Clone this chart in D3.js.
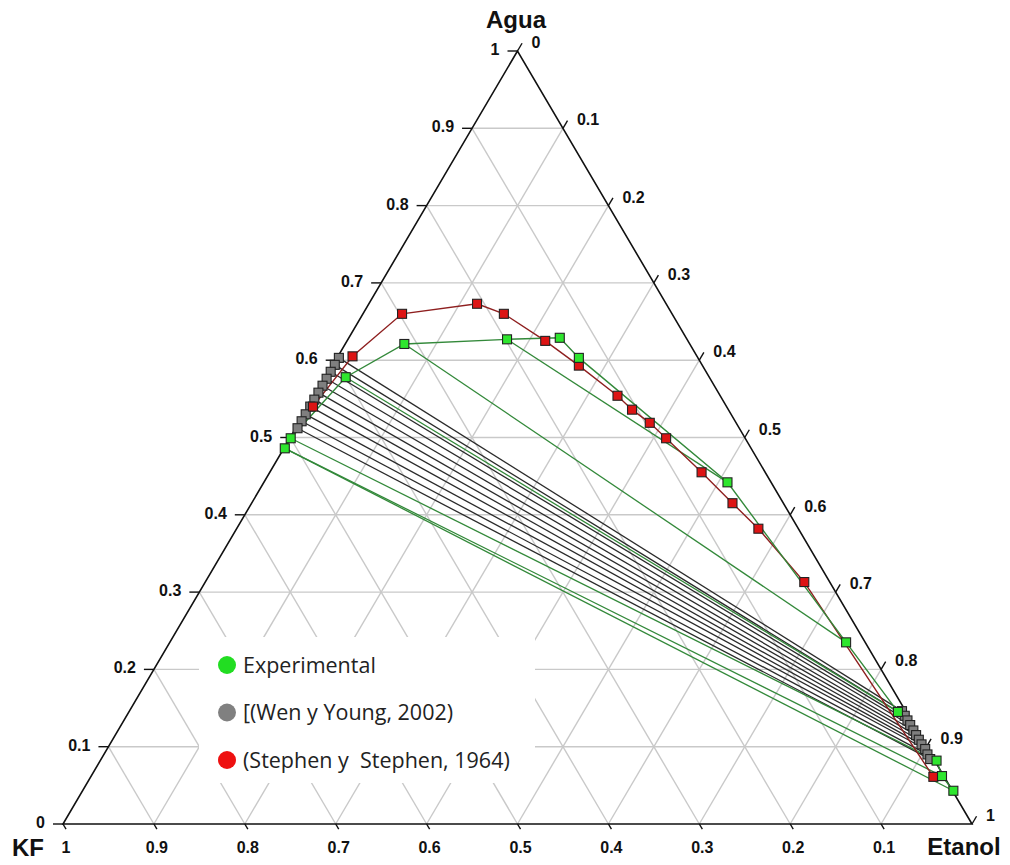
<!DOCTYPE html>
<html>
<head>
<meta charset="utf-8">
<script src="https://cdn.jsdelivr.net/npm/d3@7"></script>
<style>
  html, body { margin: 0; padding: 0; background: #fff; overflow: hidden; }
  svg { display: block; }
</style>
</head>
<body>
<svg id="chart" width="1010" height="865"></svg>
<script>
// Phase diagram Agua – KF – Etanol (mass fractions, KF = 1 - Agua - Etanol)

const tickValues = [0, 0.1, 0.2, 0.3, 0.4, 0.5, 0.6, 0.7, 0.8, 0.9, 1];
const tickLabels = ["0", "0.1", "0.2", "0.3", "0.4", "0.5", "0.6", "0.7", "0.8", "0.9", "1"];
const axisTitles = ["Agua", "KF", "Etanol"];
const legendLabels = ["Experimental", "[(Wen y Young, 2002)", "(Stephen y  Stephen, 1964)"];

// Experimental binodal curve, KF-rich branch -> plait region -> ethanol-rich branch
const expAgua    = [0.486, 0.499, 0.578, 0.621, 0.627, 0.629, 0.603, 0.442, 0.235, 0.145, 0.082, 0.062, 0.043];
const expEtanol  = [0.001, 0.001, 0.022, 0.065, 0.175, 0.232, 0.266, 0.510, 0.744, 0.846, 0.920, 0.936, 0.958];
// Experimental tie lines (indices into the curve above)
const expTieFrom = [0, 0, 1, 2, 3, 4];
const expTieTo   = [12, 11, 10, 9, 8, 7];

// Wen y Young (2002): tie-line ends, KF-rich phase and ethanol-rich phase
const wenLeftAgua    = [0.603, 0.594, 0.585, 0.576, 0.567, 0.558, 0.549, 0.540, 0.530, 0.521, 0.512];
const wenLeftEtanol  = [0.002, 0.002, 0.002, 0.002, 0.002, 0.002, 0.002, 0.002, 0.002, 0.002, 0.002];
const wenRightAgua   = [0.146, 0.140, 0.134, 0.128, 0.121, 0.115, 0.109, 0.103, 0.097, 0.090, 0.084];
const wenRightEtanol = [0.850, 0.856, 0.862, 0.868, 0.875, 0.881, 0.887, 0.893, 0.900, 0.906, 0.912];

// Stephen y Stephen (1964): binodal curve
const stephenAgua   = [0.540, 0.605, 0.660, 0.673, 0.660, 0.625, 0.593, 0.554, 0.536, 0.519, 0.499, 0.455, 0.415, 0.382, 0.313, 0.061];
const stephenEtanol = [0.005, 0.016, 0.043, 0.119, 0.155, 0.218, 0.271, 0.333, 0.358, 0.386, 0.414, 0.475, 0.529, 0.574, 0.659, 0.927];

const svg = d3.select("#chart");

// Cartesian scales for the triangle: X = Etanol + Agua/2, Y = Agua
const x = d3.scaleLinear().domain([0, 1]).range([63, 972]);
const y = d3.scaleLinear().domain([0, 1]).range([824, 51]);
const pt = (agua, etanol) => [x(etanol + agua / 2), y(agua)];

const line = d3.line();

// Grid
const grid = svg.append("g").attr("stroke", "#c9c9c9").attr("stroke-width", 1.4).attr("fill", "none");
tickValues.slice(1, -1).forEach(v => {
  // constant Agua
  grid.append("path").attr("d", line([pt(v, 0), pt(v, 1 - v)]));
  // constant Etanol
  grid.append("path").attr("d", line([pt(0, v), pt(1 - v, v)]));
  // constant KF
  grid.append("path").attr("d", line([pt(1 - v, 0), pt(0, 1 - v)]));
});

// Triangle outline
svg.append("path")
  .attr("d", line([pt(1, 0), pt(0, 0), pt(0, 1)]) + "Z")
  .attr("fill", "none").attr("stroke", "#111").attr("stroke-width", 1.6);

// Ticks and tick labels
const ticks = svg.append("g").attr("stroke", "#111").attr("stroke-width", 1.4);
const labels = svg.append("g")
  .attr("font-family", "'Liberation Sans', Arial, sans-serif")
  .attr("font-weight", "bold").attr("font-size", 16).attr("fill", "#111");

const ux = 454.5 / Math.hypot(454.5, 773), uy = 773 / Math.hypot(454.5, 773);

tickValues.forEach((v, i) => {
  // left side: Agua
  const [lx, ly] = pt(v, 0);
  ticks.append("line").attr("x1", lx - 10).attr("y1", ly).attr("x2", lx).attr("y2", ly);
  labels.append("text").attr("x", lx - 18).attr("y", ly + 4).attr("text-anchor", "end").text(tickLabels[i]);

  // right side: Etanol
  const [rx, ry] = pt(1 - v, v);
  ticks.append("line").attr("x1", rx).attr("y1", ry).attr("x2", rx + ux * 9).attr("y2", ry - uy * 9);
  labels.append("text").attr("x", rx + 14).attr("y", ry - 3).attr("text-anchor", "start").text(tickLabels[i]);

  // bottom: KF
  if (v > 0) {
    const [bx, by] = pt(0, 1 - v);
    ticks.append("line").attr("x1", bx).attr("y1", by).attr("x2", bx + ux * 6).attr("y2", by + uy * 6);
    labels.append("text").attr("x", bx + 3).attr("y", by + 29).attr("text-anchor", "middle").text(tickLabels[i]);
  }
});

// Axis titles
const titles = svg.append("g")
  .attr("font-family", "'Liberation Sans', Arial, sans-serif")
  .attr("font-weight", "bold").attr("font-size", 24).attr("fill", "#111");
titles.append("text").attr("x", 516).attr("y", 28).attr("text-anchor", "middle").text(axisTitles[0]);
titles.append("text").attr("x", 28).attr("y", 856).attr("text-anchor", "middle").text(axisTitles[1]);
titles.append("text").attr("x", 964).attr("y", 855).attr("text-anchor", "middle").text(axisTitles[2]);

// Tie lines
const ties = svg.append("g").attr("fill", "none").attr("stroke-width", 1.3);
wenLeftAgua.forEach((a, i) => {
  ties.append("path")
    .attr("d", line([pt(a, wenLeftEtanol[i]), pt(wenRightAgua[i], wenRightEtanol[i])]))
    .attr("stroke", "#2a2a2a");
});
expTieFrom.forEach((f, i) => {
  const t = expTieTo[i];
  ties.append("path")
    .attr("d", line([pt(expAgua[f], expEtanol[f]), pt(expAgua[t], expEtanol[t])]))
    .attr("stroke", "#33893a");
});

// Binodal curves
svg.append("path")
  .attr("d", line(stephenAgua.map((a, i) => pt(a, stephenEtanol[i]))))
  .attr("fill", "none").attr("stroke", "#8e1f1f").attr("stroke-width", 1.4);
svg.append("path")
  .attr("d", line(expAgua.map((a, i) => pt(a, expEtanol[i]))))
  .attr("fill", "none").attr("stroke", "#33893a").attr("stroke-width", 1.4);

// Markers
const s = 9;
function squares(aguaArr, etanolArr, fill) {
  svg.append("g").selectAll("rect")
    .data(aguaArr.map((a, i) => pt(a, etanolArr[i])))
    .join("rect")
    .attr("x", d => d[0] - s / 2).attr("y", d => d[1] - s / 2)
    .attr("width", s).attr("height", s)
    .attr("fill", fill).attr("stroke", "#222").attr("stroke-width", 1.1);
}
squares(wenLeftAgua, wenLeftEtanol, "#7f7f7f");
squares(wenRightAgua, wenRightEtanol, "#7f7f7f");
squares(stephenAgua, stephenEtanol, "#dd1414");
squares(expAgua, expEtanol, "#2ee62e");

// Legend
const legend = svg.append("g");
legend.append("rect").attr("x", 199).attr("y", 637).attr("width", 336).attr("height", 146).attr("fill", "#fff");
const legendColors = ["#22dd22", "#808080", "#ee1111"];
legendLabels.forEach((lab, i) => {
  const ly = 665 + i * 47.5;
  legend.append("circle").attr("cx", 227).attr("cy", ly).attr("r", 9).attr("fill", legendColors[i]);
  legend.append("text").attr("x", 243).attr("y", ly + 7.5)
    .attr("font-family", "'Open Sans', 'Noto Sans', sans-serif").attr("font-size", 21.5)
    .attr("fill", "#222").style("white-space", "pre").text(lab);
});
</script>
</body>
</html>
